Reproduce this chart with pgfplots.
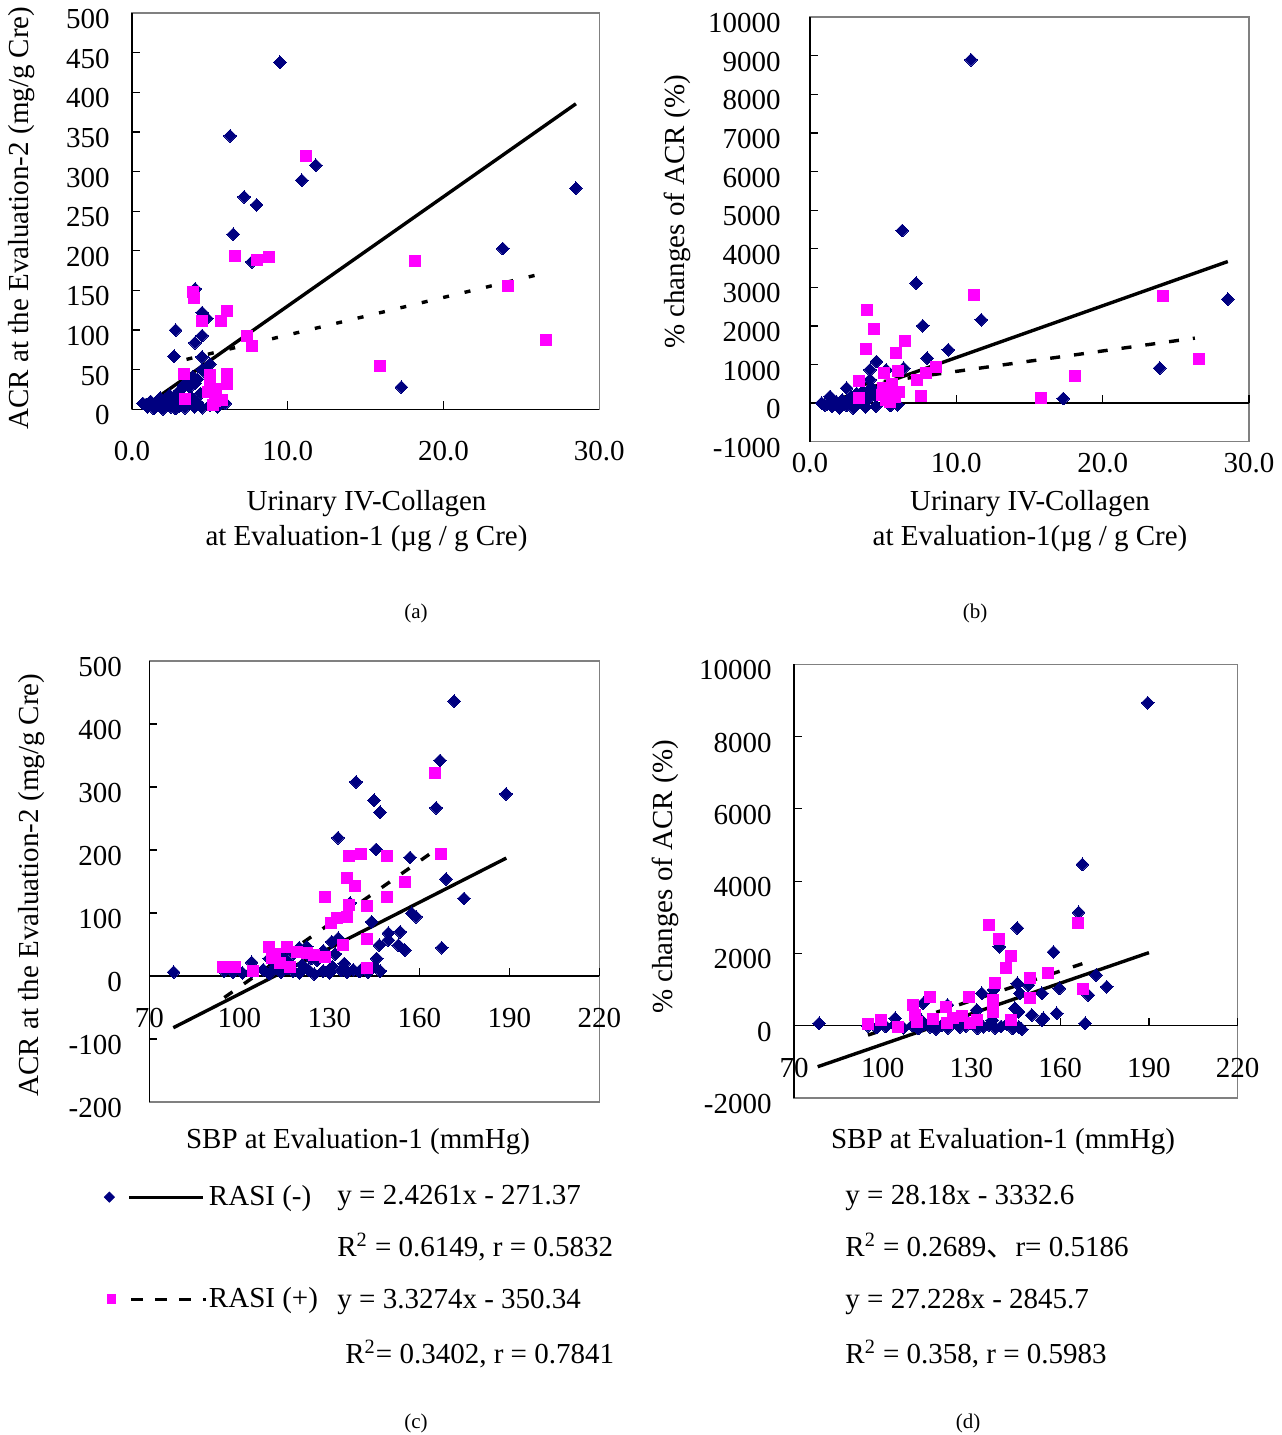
\documentclass[border=0pt]{standalone}
\usepackage{fontspec}
\setmainfont{Liberation Serif}
\newfontfamily\cjk{Noto Sans CJK SC}
\usepackage{pgfplots}
\pgfplotsset{compat=1.18}
\definecolor{navyc}{RGB}{0,0,128}
\definecolor{magc}{RGB}{255,0,255}
\definecolor{framegray}{RGB}{128,128,128}
\newcommand{\fs}{\fontsize{14.5}{17.5}\selectfont}
\newcommand{\fsmall}{\fontsize{10.5}{12}\selectfont}
\pgfplotsset{
  base/.style={scale only axis, clip=false, anchor=south west,
    axis line style={draw=framegray, line width=0.7pt},
    tick align=inside, major tick length=4pt,
    tick style={black, line width=0.6pt},
    xtick pos=lower, ytick pos=left,
    scaled ticks=false,
    tick label style={font=\fs, inner sep=0pt},
    xticklabel style={anchor=center},
    yticklabel style={anchor=east, yshift=-3pt},
    minor tick num=0},
  nav/.style={only marks, mark=square*, mark size=2.25pt, mark options={rotate=45, fill=navyc, draw=navyc, line width=0pt}, forget plot},
  mag/.style={only marks, mark=square*, mark size=2.75pt, mark options={fill=magc, draw=magc, line width=0pt}, forget plot},
  sol/.style={no marks, black, line width=1.7pt, forget plot},
  dsh/.style={no marks, black, line width=1.7pt, dash pattern=on 5pt off 7pt, forget plot},
}
\begin{document}
\begin{tikzpicture}
\path[use as bounding box] (0,0) rectangle (640.5pt,-717.5pt);

% ---------------- (a)
\begin{axis}[base, at={(66pt,-204.65pt)}, width=233.65pt, height=198.15pt,
  xmin=0, xmax=30, ymin=0, ymax=500,
  xtick={0,10,20,30}, xticklabels={0.0,10.0,20.0,30.0},
  ytick={0,50,...,500}, yticklabels={0,50,100,150,200,250,300,350,400,450,500},
  xticklabel style={yshift=-21pt}, yticklabel style={xshift=-11pt}]
\draw[black, line width=0.7pt] (rel axis cs:0,0) -- (rel axis cs:0,1);
\draw[black, line width=0.7pt] (rel axis cs:0,0) -- (rel axis cs:1,0);
\addplot[nav] table {
x y
9.5 438
6.3 345
11.8 308
10.9 289
28.5 279
7.2 268
8.0 258
6.5 221
7.7 186
23.8 203
4.05 152
4.5 122
4.8 115
2.8 100
4.5 93
4.05 84
2.7 67
4.5 66
5.0 57
17.3 28
6.0 7.5
4.5 50
3.9 41
3.6 33
3.1 24
2.4 18
1.8 14
1.2 10
0.7 7.5
3.7 28
4.2 38
4.8 45
3.3 30
2.9 20
2.1 12
1.5 5
1.0 3
1.9 2
2.5 3
3.0 4
3.5 6
4.0 3
4.5 2
5.0 5
2.2 8
2.6 10
3.2 12
3.8 15
4.4 20
1.4 1
2.0 0.5
2.8 1
3.4 2
4.2 8
0.9 6
1.6 8
5.5 3
4.05 33
};
\addplot[mag] table {
x y
11.2 320
6.6 194
8.05 189
8.8 192
18.2 187
24.15 156
26.6 87
15.9 55
3.9 148
4.0 141
4.5 111
6.1 124
5.7 111
7.4 92
7.7 80
3.35 45
5.0 43
6.1 45
6.1 32
5.0 33
5.3 26
4.9 22
5.4 18
5.3 10
5.75 12
3.4 13
5.2 5
};
\addplot[sol] coordinates {(0.94,5.4) (28.5,385.5)};
\addplot[dsh, dash pattern=on 3pt off 8pt] coordinates {(3.5,63) (26.0,169.6)};
\end{axis}

% ---------------- (b)
\begin{axis}[base, at={(405pt,-220.85pt)}, width=219.5pt, height=212.3pt,
  xmin=0, xmax=30, ymin=-1000, ymax=10000,
  xtick={0,10,20,30}, xticklabels={0.0,10.0,20.0,30.0}, xtick style={draw=none},
  ytick={-1000,0,1000,...,10000}, yticklabels={-1000,0,1000,2000,3000,4000,5000,6000,7000,8000,9000,10000},
  xticklabel style={yshift=-10.5pt}, yticklabel style={xshift=-14.5pt}]
\draw[black, line width=0.7pt] (rel axis cs:0,0) -- (rel axis cs:0,1);
\draw[black, line width=0.7pt] (axis cs:0,0) -- (axis cs:30,0);
\draw[black, line width=0.6pt] (axis cs:10,0) -- ++(0pt,4pt);
\draw[black, line width=0.6pt] (axis cs:20,0) -- ++(0pt,4pt);
\draw[black, line width=0.6pt] (axis cs:30,0) -- ++(0pt,4pt);
\addplot[nav] table {
x y
11.0 8894
6.3 4472
7.25 3108
28.55 2694
11.7 2158
7.7 2003
9.45 1381
8.0 1166
6.4 907
23.9 907
17.3 119
4.55 1078
4.1 863
5.2 863
4.1 604
2.5 388
1.37 171
0.8 0
6.0 -44
2.96 -130
1.0 -50
1.5 -80
2.0 -100
2.5 -60
3.0 -20
3.5 50
4.0 120
4.5 200
5.0 300
3.2 250
2.8 150
2.2 80
1.8 30
1.2 -20
3.8 -100
4.5 -80
5.5 -60
5.0 150
4.2 400
3.6 300
2.0 -120
1.6 60
};
\addplot[mag] table {
x y
11.2 2813
24.15 2780
3.9 2400
4.35 1925
3.8 1399
6.5 1614
5.9 1295
26.6 1140
8.6 948
18.1 715
7.9 777
7.3 604
7.6 189
15.8 145
3.35 560
3.35 130
5.06 777
6.0 819
5.0 400
5.4 250
5.2 80
5.8 150
5.6 500
6.1 300
4.9 200
5.5 30
};
\addplot[sol] coordinates {(0.87,-44) (28.55,3668)};
\addplot[dsh] coordinates {(3.42,474) (26.3,1684)};
\end{axis}

% ---------------- (c)
\begin{axis}[base, at={(74.65pt,-551pt)}, width=225pt, height=220.5pt,
  xmin=70, xmax=220, ymin=-200, ymax=500,
  xtick={70,100,...,220}, xticklabels={70,100,130,160,190,220}, xtick style={draw=none},
  ytick={-200,-100,...,500}, yticklabels={-200,-100,0,100,200,300,400,500},
  xticklabel style={yshift=42pt}, yticklabel style={xshift=-13.5pt},
  legend cell align=left,
  legend style={draw=none, fill=none, at={(-0.1007,-0.1895)}, anchor=north west,
    inner sep=0pt, outer sep=0pt, row sep=39.5pt, column sep=0.5pt,
    nodes={inner sep=0pt, font=\fs}}]
\draw[black, line width=0.7pt] (rel axis cs:0,0) -- (rel axis cs:0,1);
\draw[black, line width=0.7pt] (axis cs:70,0) -- (axis cs:220,0);
\draw[black, line width=0.6pt] (axis cs:100,0) -- ++(0pt,4pt);
\draw[black, line width=0.6pt] (axis cs:130,0) -- ++(0pt,4pt);
\draw[black, line width=0.6pt] (axis cs:160,0) -- ++(0pt,4pt);
\draw[black, line width=0.6pt] (axis cs:190,0) -- ++(0pt,4pt);
\draw[black, line width=0.6pt] (axis cs:220,0) -- ++(0pt,4pt);
\addplot[nav] table {
x y
171.6 436.5
166.9 342
138.9 308
188.9 289
144.9 279
146.9 260
165.6 267
132.9 219.5
145.6 201
156.9 188
168.9 154
174.9 123
157.5 99.5
158.9 94
167.5 45
78.1 6.3
149.7 68
153.6 70
149.7 57
153 49
155.2 41
146.7 49
144.1 86
136.9 116
130.8 54.5
122.5 46.5
104.1 21.7
145.8 28
95 8
98 6
101 5
104 7
108 10
110 4
112 15
114 6
116 12
118 8
120 5
121 18
123 10
125 3
126 25
128 8
130 5
131 15
132 35
133 60
134 9
136 6
138 10
140 7
141 12
143 6
145 15
147 8
110 28
114 32
118 35
124 28
128 40
120 45
116 22
135 20
};
\addplot[mag] table {
x y
165.2 322
167.2 193.7
136.7 190
140.5 193.7
149.1 190
135.9 155
138.6 143
155.1 150
128.6 125
149.1 125
136.7 112.7
142.5 111.6
136 94
132.7 91.5
130.5 83.6
142.7 58
134.5 48.7
110 46.5
115.8 46.5
110.8 28
119.1 38.6
122.5 36
128.6 30.7
94.7 14.8
98.6 14.8
104.7 8.5
142.5 12
113.6 20
112 35
125 33
117 15
};
\addplot[sol] coordinates {(78,-82.1) (189,187.2)};
\addplot[dsh] coordinates {(95,-34.2) (167,205.4)};
\addlegendimage{legend image code/.code={
  \fill[navyc] (-0.5pt,0pt) -- (2pt,2.5pt) -- (4.5pt,0pt) -- (2pt,-2.5pt) -- cycle;
  \draw[black, line width=1.6pt] (12pt,0pt) -- (49pt,0pt);}}
\addlegendentry{RASI (-)}
\addlegendimage{legend image code/.code={
  \fill[magc] (0.8pt,-2.2pt) rectangle (5.2pt,2.2pt);
  \draw[black, line width=1.6pt, dash pattern=on 6pt off 6pt] (13pt,0pt) -- (50.5pt,0pt);}}
\addlegendentry{RASI (+)}
\end{axis}

% ---------------- (d)
\begin{axis}[base, at={(397pt,-549pt)}, width=221.85pt, height=216.9pt,
  xmin=70, xmax=220, ymin=-2000, ymax=10000,
  xtick={70,100,...,220}, xticklabels={70,100,130,160,190,220}, xtick style={draw=none},
  ytick={-2000,0,...,10000}, yticklabels={-2000,0,2000,4000,6000,8000,10000},
  xticklabel style={yshift=15pt}, yticklabel style={xshift=-11pt}]
\draw[black, line width=0.7pt] (rel axis cs:0,0) -- (rel axis cs:0,1);
\draw[black, line width=0.7pt] (axis cs:70,0) -- (axis cs:220,0);
\draw[black, line width=0.6pt] (axis cs:100,0) -- ++(0pt,4pt);
\draw[black, line width=0.6pt] (axis cs:130,0) -- ++(0pt,4pt);
\draw[black, line width=0.6pt] (axis cs:160,0) -- ++(0pt,4pt);
\draw[black, line width=0.6pt] (axis cs:190,0) -- ++(0pt,4pt);
\draw[black, line width=0.6pt] (axis cs:220,0) -- ++(0pt,4pt);
\addplot[nav] table {
x y
189.6 8935
167.5 4465
166.2 3137
145.5 2703
157.7 2039
139.4 2186
172.1 1402
175.7 1079
169.5 849
168.4 66
78.5 66
159.7 1034
153.8 896
149.2 1126
146.4 896
137.4 988
133.5 896
113.7 620
104.2 205
121.9 573
131.8 434
144.7 481
145.9 387
150.4 296
154.3 205
158.8 343
153.8 158
145.5 1173
95 0
98 -50
101 -20
104 30
107 -60
110 10
112 -80
114 50
116 -30
118 -90
120 20
122 -60
124 80
126 -40
128 -10
130 60
132 -70
134 -30
136 20
138 -60
140 -20
142 40
144 -80
146 -30
147 -100
100 60
113 150
127 250
137 150
125 100
};
\addplot[mag] table {
x y
136 2777
139.3 2407
143.3 1928
141.5 1605
165.9 2832
156 1449
149.8 1328
167.8 1007
138 1173
129.3 802
149.8 758
137.4 711
137.4 387
116 786
110.1 573
121.3 526
99.3 158
95.1 47
105.3 -28
111.5 111
117.1 177
123.9 205
126.7 268
129.5 66
131.8 158
143.4 158
110.9 296
121.6 66
};
\addplot[sol] coordinates {(78,-1134.6) (190,2021.6)};
\addplot[dsh] coordinates {(95,-259.0) (168,1728.6)};
\end{axis}

% ---------------- texts
\begin{scope}[every node/.style={font=\fs, inner sep=0pt}]
\node[align=center] at (183.25pt,-260.75pt) {Urinary IV-Collagen\\at Evaluation-1 (µg / g Cre)};
\node[align=center] at (515pt,-260.75pt) {Urinary IV-Collagen\\at Evaluation-1(µg / g Cre)};
\node at (179pt,-571pt) {SBP at Evaluation-1 (mmHg)};
\node at (501.5pt,-571pt) {SBP at Evaluation-1 (mmHg)};
\node[rotate=90] at (11pt,-109pt) {ACR at the Evaluation-2 (mg/g Cre)};
\node[rotate=90] at (338.5pt,-106pt) {\% changes of ACR (\%)};
\node[rotate=90] at (16pt,-442.5pt) {ACR at the Evaluation-2 (mg/g Cre)};
\node[rotate=90] at (332.5pt,-438.5pt) {\% changes of ACR (\%)};
\node[anchor=base west] at (168.5pt,-602.3pt) {y = 2.4261x - 271.37};
\node[anchor=base west] at (168.5pt,-628.3pt) {R\textsuperscript{2} = 0.6149, r = 0.5832};
\node[anchor=base west] at (168.5pt,-654.3pt) {y = 3.3274x - 350.34};
\node[anchor=base west] at (172.5pt,-681.8pt) {R\textsuperscript{2}= 0.3402, r = 0.7841};
\node[anchor=base west] at (422.5pt,-602.3pt) {y = 28.18x - 3332.6};
\node[anchor=base west] at (422.5pt,-628.3pt) {R\textsuperscript{2} = 0.2689{\cjk 、}r= 0.5186};
\node[anchor=base west] at (422.5pt,-654.3pt) {y = 27.228x - 2845.7};
\node[anchor=base west] at (422.5pt,-681.8pt) {R\textsuperscript{2} = 0.358, r = 0.5983};
\node[font=\fsmall] at (208pt,-306.5pt) {(a)};
\node[font=\fsmall] at (487.5pt,-306.5pt) {(b)};
\node[font=\fsmall] at (208pt,-711.5pt) {(c)};
\node[font=\fsmall] at (484pt,-711.5pt) {(d)};
\end{scope}
\end{tikzpicture}
\end{document}
